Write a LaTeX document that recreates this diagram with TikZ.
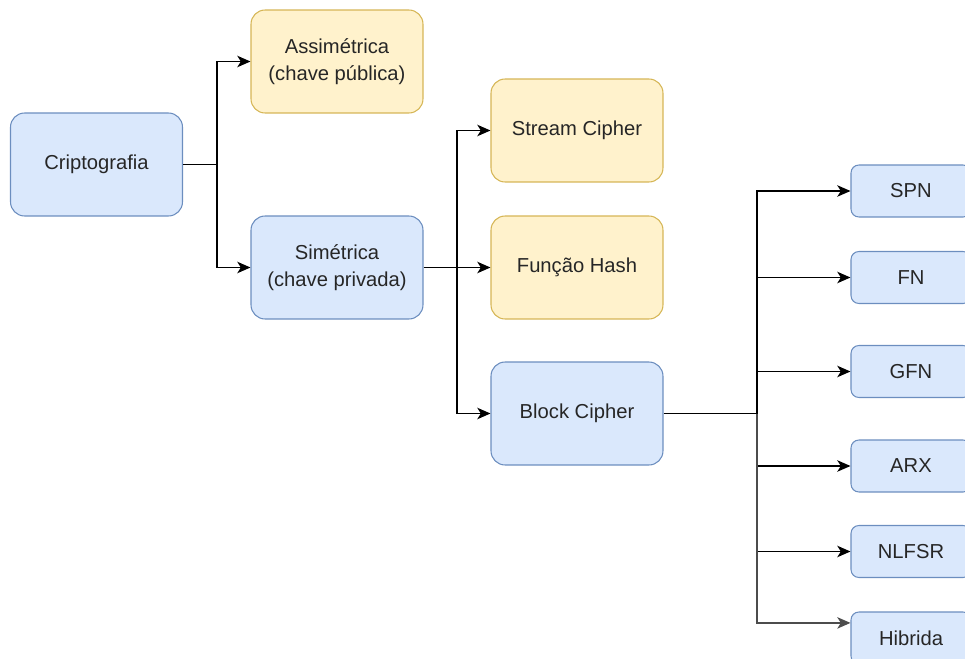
\documentclass[tikz,border=0pt]{standalone}
\usepackage{fontspec}
\setmainfont{Liberation Sans}
\usetikzlibrary{arrows.meta}
\definecolor{dioblue}{HTML}{DAE8FC}
\definecolor{dioblueline}{HTML}{6C8EBF}
\definecolor{dioyellow}{HTML}{FFF2CC}
\definecolor{dioyellowline}{HTML}{D6B656}

\begin{document}
\begin{tikzpicture}[x=0.02cm, y=-0.02cm, >={Stealth[length=7.5pt, width=6.5pt, inset=2pt]},
    caixa/.style={draw, line width=0.6pt, rounded corners=8pt, align=center,
        minimum width=3.44cm, minimum height=2.06cm, text=black!85,
        font=\fontsize{11.5}{15}\selectfont},
    azul/.style={caixa, fill=dioblue, draw=dioblueline},
    amarela/.style={caixa, fill=dioyellow, draw=dioyellowline},
    folha/.style={azul, rounded corners=4.5pt, minimum width=2.4cm, minimum height=1.04cm},
    ligacao/.style={->, line width=0.95pt}]

\useasboundingbox (0,0) rectangle (965,659);
\clip (0,0) rectangle (965,659);

% ============================================================
% NIVEL 1 — raiz e tipos de chave
% ============================================================

\node[azul] (n-cripto) at (96.5, 164.5) {Criptografia};
\node[amarela] (n-assim) at (337, 61.5) {Assimétrica\\(chave pública)};
\node[azul] (n-sim) at (337, 267.5) {Simétrica\\(chave privada)};

\coordinate (j-cripto) at (217, 164.5);
\draw[ligacao] (n-cripto) -- (j-cripto) |- (n-assim);
\draw[ligacao] (j-cripto) |- (n-sim);

% ============================================================
% NIVEL 2 — primitivas simétricas
% ============================================================

\node[amarela] (n-stream) at (577, 130.5) {Stream Cipher};
\node[amarela] (n-hash) at (577, 267.5) {Função Hash};
\node[azul] (n-block) at (577, 413.5) {Block Cipher};

\coordinate (j-sim) at (457, 267.5);
\draw[ligacao] (n-sim) -- (j-sim) |- (n-stream);
\draw[ligacao] (j-sim) -- (n-hash);
\draw[ligacao] (j-sim) |- (n-block);

% ============================================================
% NIVEL 3 — estruturas de block cipher
% ============================================================

\node[folha] (n-spn) at (911, 191) {SPN};
\node[folha] (n-fn) at (911, 277.5) {FN};
\node[folha] (n-gfn) at (911, 371.5) {GFN};
\node[folha] (n-arx) at (911, 466) {ARX};
\node[folha] (n-nlfsr) at (911, 551.5) {NLFSR};
\node[folha] (n-hib) at (911, 638) {Hibrida};

\coordinate (j-block) at (757, 413.5);
\draw[line width=0.95pt] (n-block) -- (j-block);
\foreach \alvo in {n-spn, n-fn, n-gfn, n-arx, n-nlfsr}
    \draw[ligacao] (j-block) |- (\alvo);
\draw[ligacao, black!70] (j-block) |- (n-hib.166);

\end{tikzpicture}
\end{document}
